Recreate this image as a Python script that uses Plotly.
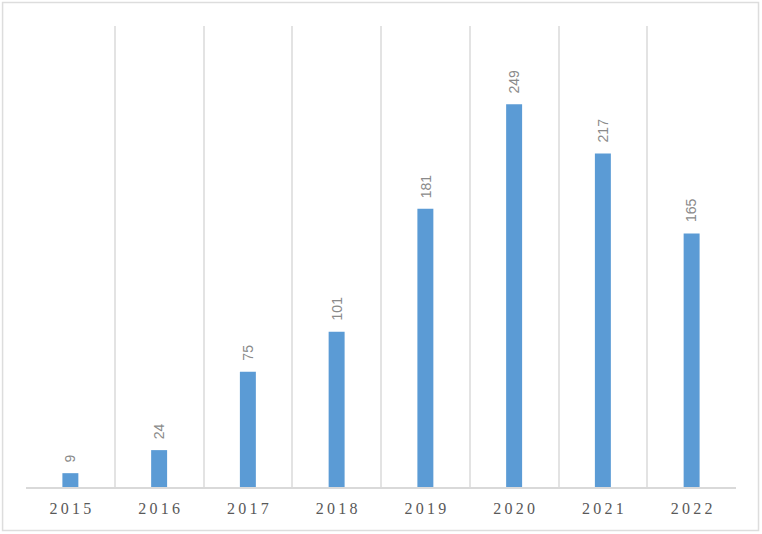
import plotly.graph_objects as go

years = ["2015", "2016", "2017", "2018", "2019", "2020", "2021", "2022"]
counts = [9, 24, 75, 101, 181, 249, 217, 165]
tick_labels = ["\u2009".join(y) for y in years]

BAR = "#5b9bd5"
GRID = "#e3e3e3"

fig = go.Figure(go.Bar(
    x=years, y=counts,
    marker=dict(color=BAR, line=dict(width=0)),
    hoverinfo="x+y",
))

# rotated value labels above each bar (x given as category index,
# numeric-looking strings would be read as indices)
for i, v in enumerate(counts):
    fig.add_annotation(
        x=i, y=v, text=str(v), showarrow=False,
        textangle=-90, yanchor="bottom", xanchor="center", yshift=9,
        font=dict(family="Liberation Sans, Arial, sans-serif", size=14, color="#8a8a8a"),
    )

fig.update_xaxes(
    type="category", range=[-0.5, len(years) - 0.5],
    tickmode="array", tickvals=years, ticktext=tick_labels,
    tickson="boundaries", showgrid=True, gridcolor=GRID, gridwidth=1.5,
    ticks="", ticklabelstandoff=6, showline=True, linecolor="#d9d9d9", linewidth=1.5,
    tickfont=dict(family="Liberation Serif, Times New Roman, serif", size=16, color="#595959"),
)
fig.update_yaxes(range=[0, 300], showgrid=False, showticklabels=False, zeroline=False, showline=False)

fig.update_layout(
    width=762, height=534,
    plot_bgcolor="white", paper_bgcolor="white",
    margin=dict(l=26, r=26, t=26, b=47),
    bargap=0.82,
    showlegend=False,
    shapes=[dict(
        type="rect", xref="paper", yref="paper",
        x0=-0.033, x1=1.0317, y0=-0.0944, y1=1.051,
        line=dict(color="#dddddd", width=1.5), fillcolor="rgba(0,0,0,0)", layer="below",
    )],
)

fig.write_html("out.html", config={"displayModeBar": False},
               post_script="document.body.style.margin='0';")
